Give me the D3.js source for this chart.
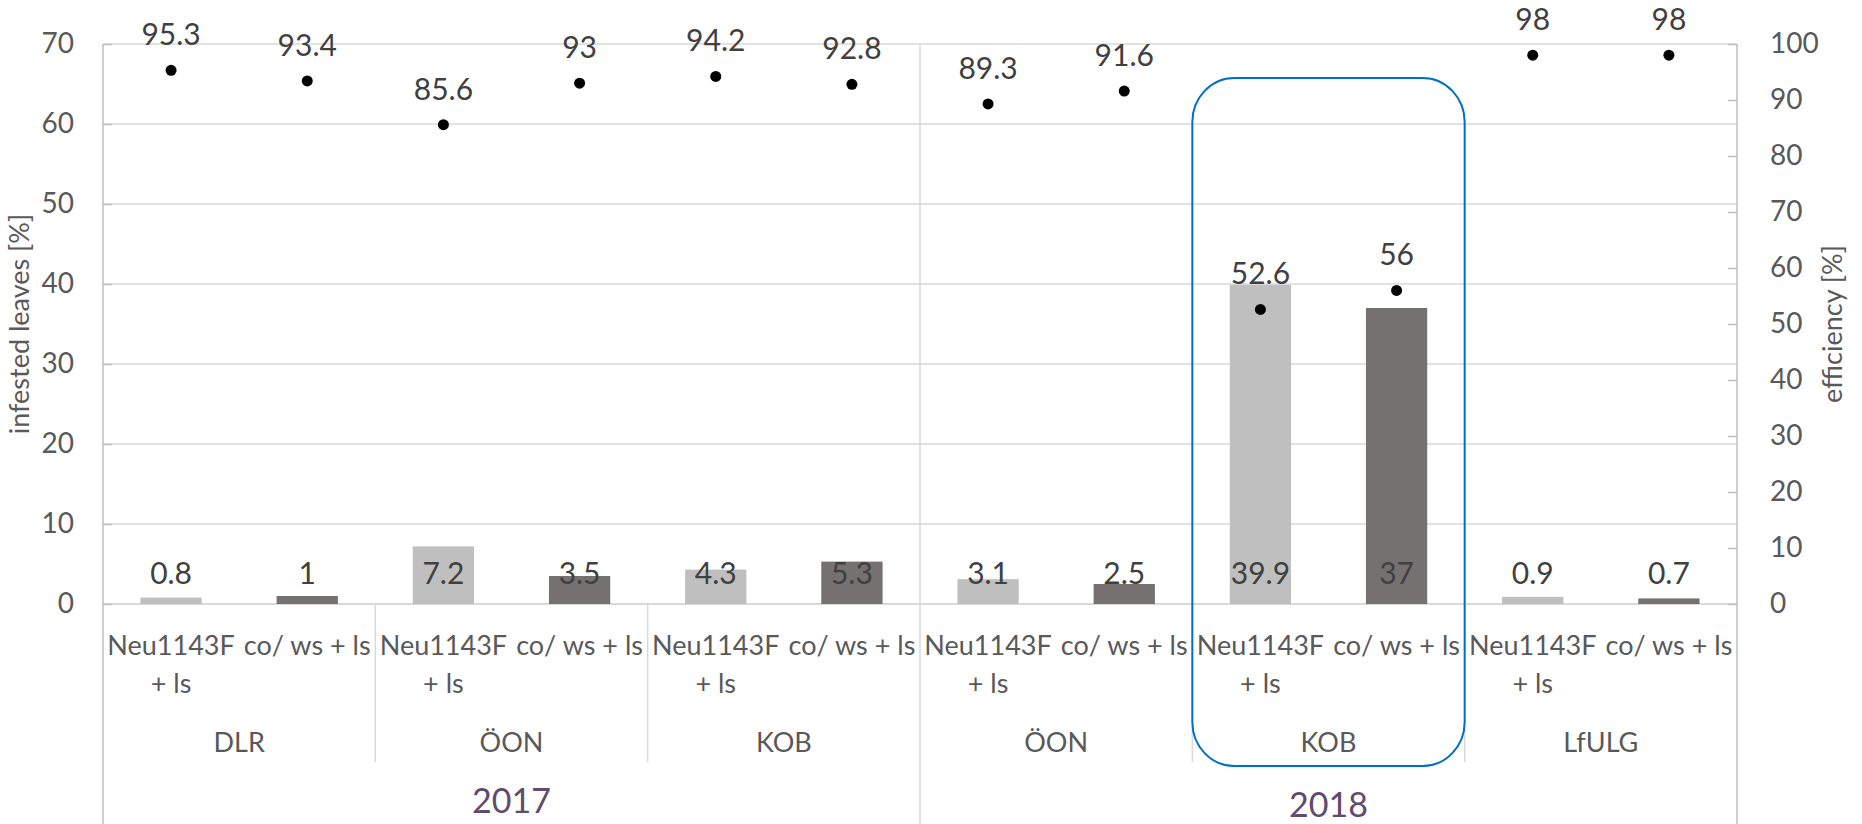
<!DOCTYPE html>
<html>
<head>
<meta charset="utf-8">
<script src="https://cdn.jsdelivr.net/npm/d3@7"></script>
<style>
  body { margin: 0; background: #fff; }
  svg { display: block; font-family: Lato, "Open Sans", sans-serif; }
</style>
</head>
<body>
<div id="chart"></div>
<script>
// values
const treatments = ["Neu1143F + ls", "co/ ws + ls"];
const treatmentLines = [["Neu1143F", "+ ls"], ["co/ ws + ls"]];
const sites = ["DLR", "ÖON", "KOB", "ÖON", "KOB", "LfULG"];
const siteYears = ["2017", "2017", "2017", "2018", "2018", "2018"];
const years = ["2017", "2018"];
const infested = [0.8, 1, 7.2, 3.5, 4.3, 5.3, 3.1, 2.5, 39.9, 37, 0.9, 0.7];
const efficiency = [95.3, 93.4, 85.6, 93, 94.2, 92.8, 89.3, 91.6, 52.6, 56, 98, 98];
const leftTicks = [0, 10, 20, 30, 40, 50, 60, 70];
const rightTicks = [0, 10, 20, 30, 40, 50, 60, 70, 80, 90, 100];
const highlightSite = 4; // the boxed KOB 2018 group

const W = 1862, H = 824;
const margin = { left: 103, right: 125, top: 44, bottom: 220 };
const plotW = W - margin.left - margin.right;
const plotH = H - margin.top - margin.bottom;

// one slot per bar
const rows = [];
sites.forEach(function(s, i) {
    treatments.forEach(function(t, j) {
        rows.push({ id: i * 2 + j, site: i, treat: j });
    });
});
rows.forEach(function(r) {
    r.infested = infested[r.id];
    r.efficiency = efficiency[r.id];
});

const x = d3.scaleBand()
    .domain(rows.map(function(d) { return d.id; }))
    .range([margin.left, margin.left + plotW])
    .paddingInner(0.55)
    .paddingOuter(0.275);

const yL = d3.scaleLinear().domain([0, 70]).range([margin.top + plotH, margin.top]);
const yR = d3.scaleLinear().domain([0, 100]).range([margin.top + plotH, margin.top]);

const barColor = ["#bfbfbf", "#767171"];
const gridColor = "#d9d9d9";
const axisColor = "#bfbfbf";
const textColor = "#595959";
const labelColor = "#404040";

const svg = d3.select("#chart").append("svg")
    .attr("width", W)
    .attr("height", H);

const step = x.step();
const x0 = margin.left, x1 = margin.left + plotW;
const yZero = yL(0);

// gridlines
svg.append("g").selectAll("line")
    .data(leftTicks.filter(function(d) { return d > 0; }))
    .enter().append("line")
    .attr("x1", x0).attr("x2", x1)
    .attr("y1", function(d) { return yL(d); })
    .attr("y2", function(d) { return yL(d); })
    .attr("stroke", gridColor)
    .attr("stroke-width", 1.5);

// year separator through the plot
svg.append("line")
    .attr("x1", x0 + step * 6).attr("x2", x0 + step * 6)
    .attr("y1", margin.top).attr("y2", H)
    .attr("stroke", gridColor).attr("stroke-width", 1.5);

// site separators in the label area
const siteBounds = d3.range(1, sites.length).filter(function(i) { return i !== 3; });
svg.append("g").selectAll("line")
    .data(siteBounds)
    .enter().append("line")
    .attr("x1", function(i) { return x0 + step * 2 * i; })
    .attr("x2", function(i) { return x0 + step * 2 * i; })
    .attr("y1", yZero).attr("y2", yZero + 158)
    .attr("stroke", gridColor).attr("stroke-width", 1.5);

// x axis line
svg.append("line")
    .attr("x1", x0).attr("x2", x1)
    .attr("y1", yZero).attr("y2", yZero)
    .attr("stroke", gridColor).attr("stroke-width", 2);

// left and right frame lines
svg.append("line")
    .attr("x1", x0).attr("x2", x0)
    .attr("y1", margin.top).attr("y2", H)
    .attr("stroke", axisColor).attr("stroke-width", 1.5);
svg.append("line")
    .attr("x1", x1).attr("x2", x1)
    .attr("y1", margin.top).attr("y2", H)
    .attr("stroke", axisColor).attr("stroke-width", 1.5);

// bars
svg.append("g").selectAll("rect")
    .data(rows)
    .enter().append("rect")
    .attr("x", function(d) { return x(d.id); })
    .attr("width", x.bandwidth())
    .attr("y", function(d) { return yL(d.infested); })
    .attr("height", function(d) { return yZero - yL(d.infested); })
    .attr("fill", function(d) { return barColor[d.treat]; });

// bar labels at the base
svg.append("g").selectAll("text")
    .data(rows)
    .enter().append("text")
    .attr("x", function(d) { return x(d.id) + x.bandwidth() / 2; })
    .attr("y", yZero - 20)
    .attr("text-anchor", "middle")
    .attr("font-size", 30)
    .attr("fill", labelColor)
    .text(function(d) { return d.infested; });

// efficiency points
svg.append("g").selectAll("circle")
    .data(rows)
    .enter().append("circle")
    .attr("cx", function(d) { return x(d.id) + x.bandwidth() / 2; })
    .attr("cy", function(d) { return yR(d.efficiency); })
    .attr("r", 5.5)
    .attr("fill", "#000");

svg.append("g").selectAll("text")
    .data(rows)
    .enter().append("text")
    .attr("x", function(d) { return x(d.id) + x.bandwidth() / 2; })
    .attr("y", function(d) { return yR(d.efficiency) - 25; })
    .attr("text-anchor", "middle")
    .attr("font-size", 30)
    .attr("fill", labelColor)
    .text(function(d) { return d.efficiency; });

// left axis
const leftAxis = svg.append("g")
    .attr("transform", "translate(" + x0 + ",0)")
    .call(d3.axisLeft(yL).tickValues(leftTicks).tickSize(-9).tickPadding(29));
leftAxis.select(".domain").remove();
leftAxis.selectAll("line").attr("stroke", axisColor).attr("stroke-width", 1.5);
leftAxis.selectAll("text")
    .attr("font-size", 28).attr("fill", textColor)
    .attr("font-family", "Lato, sans-serif");

// right axis, ticks pointing into the plot
const rightAxis = svg.append("g")
    .attr("transform", "translate(" + x1 + ",0)")
    .call(d3.axisRight(yR).tickValues(rightTicks).tickSize(-9).tickPadding(33));
rightAxis.select(".domain").remove();
rightAxis.selectAll("line").attr("stroke", axisColor).attr("stroke-width", 1.5);
rightAxis.selectAll("text")
    .attr("font-size", 28).attr("fill", textColor)
    .attr("font-family", "Lato, sans-serif");

// axis titles
const midY = (margin.top + yZero) / 2;
svg.append("text")
    .attr("transform", "translate(29," + midY + ") rotate(-90)")
    .attr("text-anchor", "middle")
    .attr("font-size", 27)
    .attr("fill", textColor)
    .text("infested leaves [%]");
svg.append("text")
    .attr("transform", "translate(" + (W - 20) + "," + midY + ") rotate(-90)")
    .attr("text-anchor", "middle")
    .attr("font-size", 27)
    .attr("fill", textColor)
    .text("efficiency [%]");

// treatment labels
const tl = svg.append("g").selectAll("text")
    .data(rows)
    .enter().append("text")
    .attr("text-anchor", "middle")
    .attr("font-size", 27)
    .attr("fill", textColor);
tl.selectAll("tspan")
    .data(function(d) {
        return treatmentLines[d.treat].map(function(t) {
            return { text: t, cx: x(d.id) + x.bandwidth() / 2 };
        });
    })
    .enter().append("tspan")
    .attr("x", function(d) { return d.cx; })
    .attr("y", function(d, i) { return yZero + 51 + i * 38; })
    .text(function(d) { return d.text; });

// site labels
svg.append("g").selectAll("text")
    .data(sites)
    .enter().append("text")
    .attr("x", function(d, i) { return x0 + step * (2 * i + 1); })
    .attr("y", yZero + 148)
    .attr("text-anchor", "middle")
    .attr("font-size", 27)
    .attr("fill", textColor)
    .text(function(d) { return d; });

// year labels
svg.append("g").selectAll("text")
    .data(years)
    .enter().append("text")
    .attr("x", function(d, i) { return x0 + step * (6 * i + 3); })
    .attr("y", function(d, i) { return yZero + 209 + i * 4; })
    .attr("text-anchor", "middle")
    .attr("font-size", 34)
    .attr("fill", "#604a6e")
    .text(function(d) { return d; });

// highlight box around KOB 2018
svg.append("rect")
    .attr("x", x0 + step * 2 * highlightSite)
    .attr("width", step * 2)
    .attr("y", yL(65.75))
    .attr("height", (yZero + 162) - yL(65.75))
    .attr("rx", 42).attr("ry", 44)
    .attr("fill", "none")
    .attr("stroke", "#0070c0")
    .attr("stroke-width", 2);
</script>
</body>
</html>
